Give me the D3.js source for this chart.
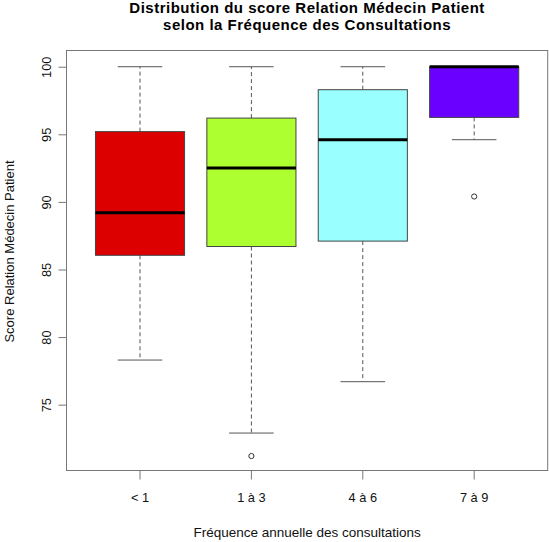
<!DOCTYPE html>
<html>
<head>
<meta charset="utf-8">
<script src="https://cdn.jsdelivr.net/npm/d3@7"></script>
<style>
  html, body { margin: 0; padding: 0; background: #fff; }
  text { font-family: "Liberation Sans", Arial, sans-serif; }
</style>
</head>
<body>
<svg id="chart" width="549" height="542"></svg>
<script>
const categories = ["< 1", "1 à 3", "4 à 6", "7 à 9"];
const whiskerLow  = [78.3, 72.9, 76.7, 94.6];
const q1          = [86.05, 86.7, 87.1, 96.25];
const median      = [89.2, 92.5, 94.6, 100];
const q3          = [95.2, 96.2, 98.3, 100];
const whiskerHigh = [100, 100, 100, 100];
const outliers    = [[], [71.2], [], [90.4]];
const colors      = ["#DC0000", "#ADFF2F", "#99FFFF", "#6A00FF"];
const yTicks      = [75, 80, 85, 90, 95, 100];

const title1 = "Distribution du score Relation Médecin Patient";
const title2 = "selon la Fréquence des Consultations";
const xTitle = "Fréquence annuelle des consultations";
const yTitle = "Score Relation Médecin Patient";

const plot = { left: 66.5, right: 547.7, top: 50.5, bottom: 470.5 };
const svg = d3.select("#chart");

const unit = (plot.right - plot.left) / 4.32;
const x = d3.scaleBand()
  .domain(categories)
  .range([plot.left + 0.16 * unit, plot.right - 0.16 * unit])
  .paddingInner(0).paddingOuter(0);
const y = d3.scaleLinear().domain([70.13, 101.2]).range([plot.bottom, plot.top]);

const data = categories.map((c, i) => ({
  c, lo: whiskerLow[i], q1: q1[i], med: median[i], q3: q3[i], hi: whiskerHigh[i],
  out: outliers[i], color: colors[i]
}));

const bw = x.bandwidth() * 0.8;
const cx = d => x(d.c) + x.bandwidth() / 2;

const g = svg.append("g");
const box = g.selectAll("g.box").data(data).join("g").attr("class", "box");

// whiskers (dashed)
box.append("line")
  .attr("x1", cx).attr("x2", cx)
  .attr("y1", d => y(d.q3)).attr("y2", d => y(d.hi))
  .attr("stroke", "#555").attr("stroke-width", 1).attr("stroke-dasharray", "4,3");
box.append("line")
  .attr("x1", cx).attr("x2", cx)
  .attr("y1", d => y(d.q1)).attr("y2", d => y(d.lo))
  .attr("stroke", "#555").attr("stroke-width", 1).attr("stroke-dasharray", "4,3");
// caps
box.filter(d => d.hi > d.q3).append("line")
  .attr("x1", d => cx(d) - bw / 4).attr("x2", d => cx(d) + bw / 4)
  .attr("y1", d => y(d.hi)).attr("y2", d => y(d.hi))
  .attr("stroke", "#555").attr("stroke-width", 1);
box.append("line")
  .attr("x1", d => cx(d) - bw / 4).attr("x2", d => cx(d) + bw / 4)
  .attr("y1", d => y(d.lo)).attr("y2", d => y(d.lo))
  .attr("stroke", "#555").attr("stroke-width", 1);
// box
box.append("rect")
  .attr("x", d => cx(d) - bw / 2).attr("width", bw)
  .attr("y", d => y(d.q3)).attr("height", d => y(d.q1) - y(d.q3))
  .attr("fill", d => d.color).attr("stroke", "#444").attr("stroke-width", 1);
// median
box.append("line")
  .attr("x1", d => cx(d) - bw / 2).attr("x2", d => cx(d) + bw / 2)
  .attr("y1", d => y(d.med)).attr("y2", d => y(d.med))
  .attr("stroke", "#000").attr("stroke-width", 3);
// outliers
box.each(function(d) {
  d3.select(this).selectAll("circle").data(d.out).join("circle")
    .attr("cx", cx(d)).attr("cy", v => y(v)).attr("r", 2.6)
    .attr("fill", "none").attr("stroke", "#333").attr("stroke-width", 1);
});

// plot frame
svg.append("rect")
  .attr("x", plot.left).attr("y", plot.top)
  .attr("width", plot.right - plot.left).attr("height", plot.bottom - plot.top)
  .attr("fill", "none").attr("stroke", "#777").attr("stroke-width", 1);

// y axis
const yAxis = d3.axisLeft(y).tickValues(yTicks).tickSize(8).tickPadding(0).tickSizeOuter(0);
const ya = svg.append("g").attr("transform", `translate(${plot.left},0)`).call(yAxis);
ya.select(".domain").attr("stroke", "#777").attr("d", `M0,${y(75)}V${y(100)}`);
ya.selectAll(".tick line").attr("stroke", "#777");
ya.selectAll(".tick text")
  .attr("x", 0).attr("dy", null)
  .attr("transform", "translate(-20,0) rotate(-90)")
  .attr("text-anchor", "middle").attr("dominant-baseline", "central")
  .attr("font-size", "12.8px").attr("fill", "#111")
  .style("font-family", "'Liberation Sans', Arial, sans-serif");

// x axis
const xAxis = d3.axisBottom(x).tickSize(9).tickPadding(13).tickSizeOuter(0);
const xa = svg.append("g").attr("transform", `translate(0,${plot.bottom})`).call(xAxis);
xa.select(".domain").attr("stroke", "#777").attr("d", `M${x(categories[0]) + x.bandwidth()/2},0H${x(categories[3]) + x.bandwidth()/2}`);
xa.selectAll(".tick line").attr("stroke", "#777");
xa.selectAll(".tick text")
  .attr("font-size", "12.8px").attr("fill", "#111")
  .style("font-family", "'Liberation Sans', Arial, sans-serif");

const midX = (plot.left + plot.right) / 2;
// titles
svg.append("text").attr("x", midX).attr("y", 12.5).attr("text-anchor", "middle")
  .attr("font-weight", "bold").attr("font-size", "15px").attr("letter-spacing", "0.5px")
  .attr("fill", "#000").text(title1);
svg.append("text").attr("x", midX).attr("y", 29.5).attr("text-anchor", "middle")
  .attr("font-weight", "bold").attr("font-size", "15px").attr("letter-spacing", "0.5px")
  .attr("fill", "#000").text(title2);
svg.append("text").attr("x", midX).attr("y", 537).attr("text-anchor", "middle")
  .attr("font-size", "13.5px").attr("fill", "#111").text(xTitle);
svg.append("text").attr("transform", `translate(14,${(plot.top + plot.bottom) / 2 - 9}) rotate(-90)`)
  .attr("text-anchor", "middle").attr("font-size", "13px").attr("fill", "#111").text(yTitle);
</script>
</body>
</html>
